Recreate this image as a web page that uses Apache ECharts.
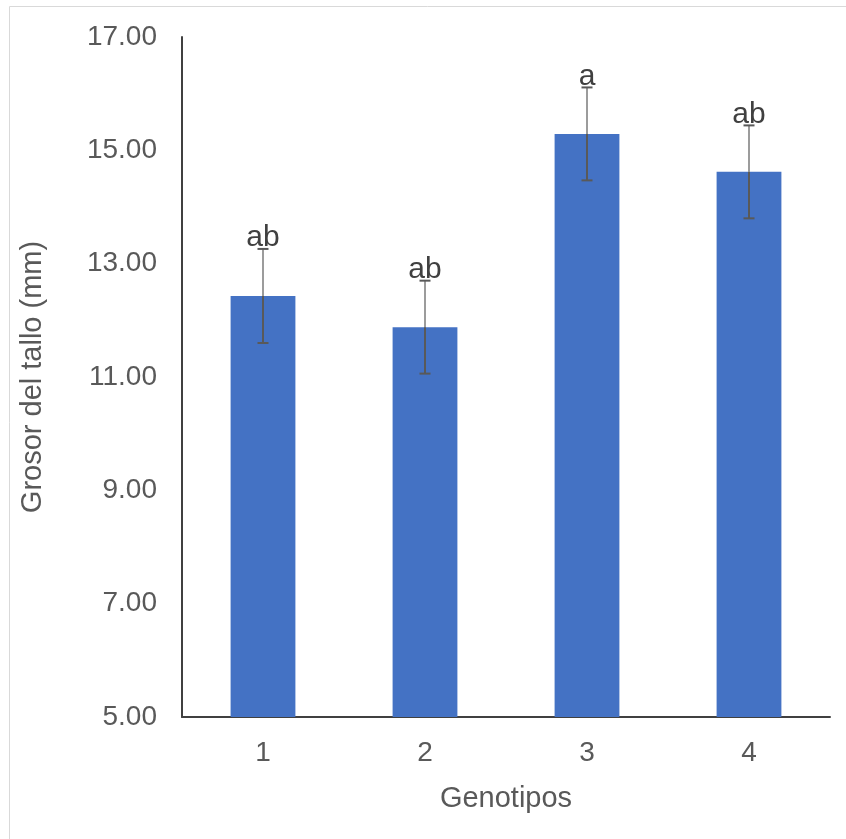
<!DOCTYPE html>
<html><head><meta charset="utf-8">
<script src="https://cdn.jsdelivr.net/npm/echarts@6/dist/echarts.min.js"></script>
<style>html,body{margin:0;padding:0;background:#fff}#c{width:846px;height:839px}</style>
</head><body><div id="c"></div>
<script>
const categories = ['1', '2', '3', '4'];
const means = [12.43, 11.88, 15.29, 14.62];
const errors = [0.83, 0.82, 0.82, 0.82];
const letters = ['ab', 'ab', 'a', 'ab'];
const yTicks = [5, 7, 9, 11, 13, 15, 17];

const chart = echarts.init(document.getElementById('c'), null, {renderer: 'canvas'});
const font = 'Liberation Sans, Arial, sans-serif';
chart.setOption({
  animation: false,
  graphic: [
    {type: 'line', shape: {x1: 9.5, y1: 6.5, x2: 846, y2: 6.5}, style: {stroke: '#d9d9d9', lineWidth: 1}},
    {type: 'line', shape: {x1: 9.5, y1: 6.5, x2: 9.5, y2: 839}, style: {stroke: '#d9d9d9', lineWidth: 1}}
  ],
  grid: {left: 182, right: 16, top: 37, bottom: 122},
  xAxis: {
    type: 'category', data: categories,
    name: 'Genotipos', nameLocation: 'middle', nameGap: 67,
    nameTextStyle: {fontFamily: font, fontSize: 29, color: '#595959'},
    axisLine: {lineStyle: {color: '#404040', width: 2}},
    axisTick: {show: false},
    axisLabel: {fontFamily: font, fontSize: 28, color: '#595959', margin: 22}
  },
  yAxis: {
    type: 'value', min: yTicks[0], max: yTicks[yTicks.length - 1], interval: 2,
    name: 'Grosor del tallo (mm)', nameLocation: 'middle', nameGap: 135,
    nameTextStyle: {fontFamily: font, fontSize: 29, color: '#595959'},
    axisLine: {show: true, lineStyle: {color: '#404040', width: 2}},
    axisTick: {show: false},
    splitLine: {show: false},
    axisLabel: {fontFamily: font, fontSize: 28, color: '#595959', margin: 25,
      formatter: v => v.toFixed(2)}
  },
  series: [
    {
      type: 'bar', data: means, barWidth: '40%',
      itemStyle: {color: '#4472C4'}
    },
    {
      type: 'custom',
      data: means.map((m, i) => [i, m - errors[i], m + errors[i], m]),
      renderItem: function (params, api) {
        const x = api.value(0);
        const lo = api.coord([x, api.value(1)]);
        const hi = api.coord([x, api.value(2)]);
        const mid = api.coord([x, api.value(3)]);
        const cap = 5.5;
        const dark = {stroke: '#595959', lineWidth: 2};
        const light = {stroke: '#9c9c9c', lineWidth: 2};
        return {
          type: 'group',
          children: [
            {type: 'line', shape: {x1: mid[0], y1: mid[1], x2: hi[0], y2: hi[1]}, style: light},
            {type: 'line', shape: {x1: lo[0], y1: lo[1], x2: mid[0], y2: mid[1]}, style: dark},
            {type: 'line', shape: {x1: lo[0] - cap, y1: lo[1], x2: lo[0] + cap, y2: lo[1]}, style: dark},
            {type: 'line', shape: {x1: hi[0] - cap, y1: hi[1], x2: hi[0] + cap, y2: hi[1]}, style: dark},
            {type: 'text', x: hi[0], y: hi[1] + 4,
              style: {text: letters[params.dataIndex], fill: '#404040', fontFamily: font, fontSize: 30,
                align: 'center', verticalAlign: 'bottom'}}
          ]
        };
      },
      z: 10
    }
  ]
});
</script></body></html>
